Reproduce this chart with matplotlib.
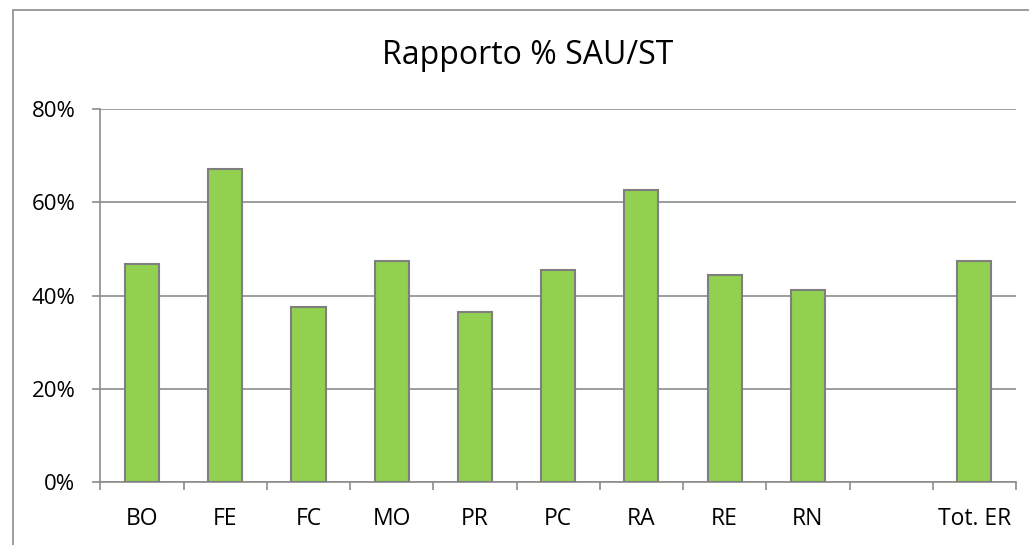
import numpy as np
import matplotlib.pyplot as plt
from matplotlib.patches import Rectangle

categories = ['BO', 'FE', 'FC', 'MO', 'PR', 'PC', 'RA', 'RE', 'RN', '', 'Tot. ER']
values = [46.7, 67.1, 37.5, 47.3, 36.4, 45.4, 62.6, 44.4, 41.2, np.nan, 47.4]
yticks = [0, 20, 40, 60, 80]

plt.rcParams['font.family'] = ['Open Sans', 'DejaVu Sans']
grey = '#8c8c8c'

fig = plt.figure(figsize=(10.29, 5.45), dpi=100)
# outer chart frame (cut off at right and bottom, as in the source)
fig.patches.append(Rectangle((13 / 1029, -0.05), 1.1, (545 - 10) / 545 + 0.05,
                             transform=fig.transFigure, fill=False,
                             edgecolor=grey, linewidth=1.2))

ax = fig.add_axes([0.0975, 0.1149, 0.9874 - 0.0975, 0.8004 - 0.1149])
x = np.arange(len(categories))
ax.bar(x, values, width=0.41, color='#92d050', edgecolor='#7f7f7f', linewidth=1.5, zorder=3)

ax.set_xlim(-0.5, len(categories) - 0.5)
ax.set_ylim(0, 80)
ax.set_yticks(yticks)
ax.set_yticklabels([f'{v}%' for v in yticks], fontsize=16)
ax.yaxis.grid(True, color=grey, linewidth=1.2, zorder=0)

ax.set_xticks(x)
ax.set_xticklabels(categories, fontsize=16.5)
ax.set_xticks(np.arange(len(categories) + 1) - 0.5, minor=True)
ax.tick_params(axis='x', which='major', length=0, pad=18)
ax.tick_params(axis='x', which='minor', length=6, color=grey, width=1.2)
ax.tick_params(axis='y', length=6, color=grey, width=1.2, pad=12)

for s in ['top', 'right']:
    ax.spines[s].set_visible(False)
for s in ['left', 'bottom']:
    ax.spines[s].set_color(grey)
    ax.spines[s].set_linewidth(1.2)

fig.text(528 / 1029, 1 - 55 / 545, 'Rapporto % SAU/ST', ha='center', va='center', fontsize=23)

fig.savefig('out.png', dpi=100)
